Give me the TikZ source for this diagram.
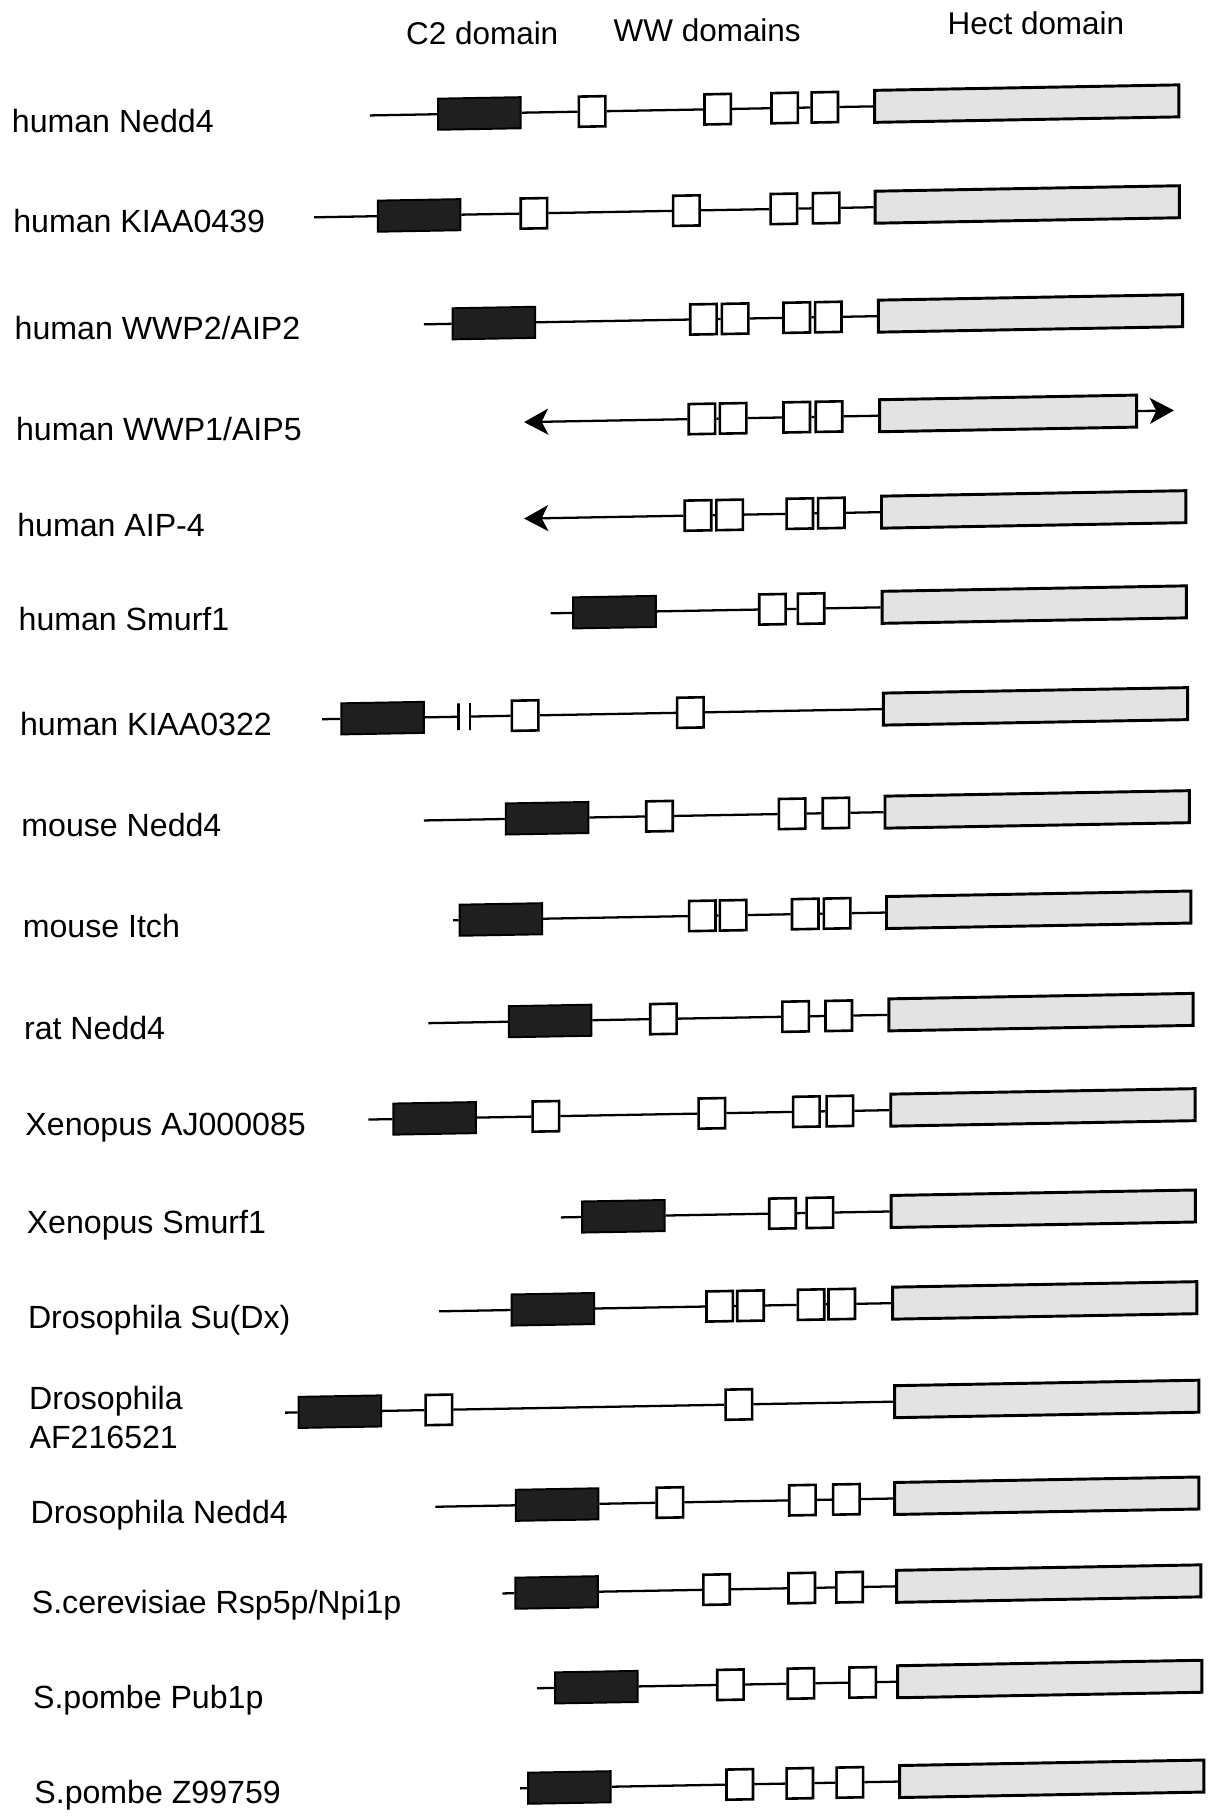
\documentclass[tikz,border=0pt]{standalone}
\usepackage{fontspec}
\setmainfont{Liberation Sans}
\usetikzlibrary{arrows.meta}
\begin{document}
\begin{tikzpicture}[x=0.025cm,y=0.025cm,
  lbl/.style={anchor=base west, inner sep=0, font=\fontsize{19.7}{22}\selectfont},
  hdr/.style={anchor=base west, inner sep=0, font=\fontsize{19.3}{22}\selectfont},
  ln/.style={line width=1.4pt},
  c2box/.style={draw, line width=1.2pt, fill=black!88, minimum width=1.78cm, minimum height=0.67cm, inner sep=0, transform shape},
  wwbox/.style={draw, line width=1.6pt, fill=white, minimum width=0.57cm, minimum height=0.65cm, inner sep=0, transform shape},
  hectbox/.style={draw, line width=1.8pt, fill=gray!22, minimum width=6.56cm, minimum height=0.69cm, inner sep=0, transform shape},
  brk/.style={draw, line width=1.4pt, minimum width=0pt, minimum height=0.58cm, inner sep=0, transform shape},
  tip/.style={-{Stealth[length=0.52cm,width=0.56cm,inset=0.14cm]}}
]
\useasboundingbox (0,0) rectangle (1042,-1568);

% headers
\node[hdr] (hc2) at (350,-38.8) {C2 domain};
\node[hdr] (hww) at (529,-35.9) {WW domains};
\node[hdr] (hhe) at (817,-29.6) {Hect domain};

% labels
\node[lbl] (l1) at (10,-114) {human Nedd4};
\node[lbl] (l2) at (11.2,-200.4) {human KIAA0439};
\node[lbl] (l3) at (12.4,-292.7) {human WWP2/AIP2};
\node[lbl] (l4) at (13.6,-379.5) {human WWP1/AIP5};
\node[lbl] (l5) at (14.7,-463) {human AIP-4};
\node[lbl] (l6) at (15.8,-544) {human Smurf1};
\node[lbl] (l7) at (17.0,-634) {human KIAA0322};
\node[lbl] (l8) at (18.2,-721.7) {mouse Nedd4};
\node[lbl] (l9) at (19.4,-808.5) {mouse Itch};
\node[lbl] (l10) at (20.5,-896.5) {rat Nedd4};
\node[lbl] (l11) at (21.7,-979) {Xenopus AJ000085};
\node[lbl] (l12) at (22.8,-1064) {Xenopus Smurf1};
\node[lbl] (l13) at (23.9,-1145.8) {Drosophila Su(Dx)};
\node[lbl] (l14a) at (24.9,-1215.7) {Drosophila};
\node[lbl] (l14b) at (25.3,-1249.3) {AF216521};
\node[lbl] (l15) at (26.2,-1314) {Drosophila Nedd4};
\node[lbl] (l16) at (27.2,-1391.7) {S.cerevisiae Rsp5p/Npi1p};
\node[lbl] (l17) at (28.3,-1473.6) {S.pombe Pub1p};
\node[lbl] (l18) at (29.4,-1555.5) {S.pombe Z99759};

\begin{scope}[yshift=-0.27cm, yslant=0.018]
% R1
\coordinate (s1) at (319,-94.5);
\node[c2box] (c1) at (413.4,-94.5) {};
\node[wwbox] (w1a) at (510.7,-94.5) {};
\node[wwbox] (w1b) at (619,-94.5) {};
\node[wwbox] (w1c) at (676.8,-94.5) {};
\node[wwbox] (w1d) at (711.4,-94.5) {};
\node[hectbox] (h1) at (885.5,-94.5) {};
\draw[ln] (s1) -- (c1) -- (w1a) -- (w1b) -- (w1c) -- (w1d) -- (h1);
% R2
\coordinate (s2) at (271,-181.5);
\node[c2box] (c2) at (361.5,-181.5) {};
\node[wwbox] (w2a) at (460.5,-181.5) {};
\node[wwbox] (w2b) at (592,-181.5) {};
\node[wwbox] (w2c) at (676.1,-181.5) {};
\node[wwbox] (w2d) at (712.5,-181.5) {};
\node[hectbox] (h2) at (886,-181.5) {};
\draw[ln] (s2) -- (c2) -- (w2a) -- (w2b) -- (w2c) -- (w2d) -- (h2);
% R3
\coordinate (s3) at (365.5,-275.5);
\node[c2box] (c3) at (426,-275.5) {};
\node[wwbox] (w3a) at (606.7,-275.5) {};
\node[wwbox] (w3b) at (634,-275.5) {};
\node[wwbox] (w3c) at (687.2,-275.5) {};
\node[wwbox] (w3d) at (714.4,-275.5) {};
\node[hectbox] (h3) at (888.8,-275.5) {};
\draw[ln] (s3) -- (c3) -- (w3a) -- (w3b) -- (w3c) -- (w3d) -- (h3);
% R4
\coordinate (a4) at (452,-361.4);
\node[wwbox] (w4a) at (605.4,-361.4) {};
\node[wwbox] (w4b) at (632.3,-361.4) {};
\node[wwbox] (w4c) at (687.2,-361.4) {};
\node[wwbox] (w4d) at (715,-361.4) {};
\node[hectbox, minimum width=5.54cm] (h4) at (869.5,-361.4) {};
\coordinate (t4) at (1012.5,-361.4);
\draw[ln,tip] (w4a) -- (a4);
\draw[ln] (w4a) -- (w4b) -- (w4c) -- (w4d) -- (h4);
\draw[ln,tip] (h4) -- (t4);
% R5
\coordinate (a5) at (452,-444.6);
\node[wwbox] (w5a) at (602,-444.6) {};
\node[wwbox] (w5b) at (629.3,-444.6) {};
\node[wwbox] (w5c) at (689.8,-444.6) {};
\node[wwbox] (w5d) at (717,-444.6) {};
\node[hectbox] (h5) at (891.5,-444.6) {};
\draw[ln,tip] (w5a) -- (a5);
\draw[ln] (w5a) -- (w5b) -- (w5c) -- (w5d) -- (h5);
% R6
\coordinate (s6) at (475,-526.7);
\node[c2box] (c6) at (530,-526.7) {};
\node[wwbox] (w6a) at (666.2,-526.7) {};
\node[wwbox] (w6b) at (699.5,-526.7) {};
\node[hectbox] (h6) at (892,-526.7) {};
\draw[ln] (s6) -- (c6) -- (w6a) -- (w6b) -- (h6);
% R7
\coordinate (s7) at (277.8,-614.5);
\node[c2box] (c7) at (330,-614.5) {};
\node[brk] (b7a) at (395.4,-614.5) {};
\node[brk] (b7b) at (405.4,-614.5) {};
\node[wwbox] (w7a) at (452.9,-614.5) {};
\node[wwbox] (w7b) at (595.4,-614.5) {};
\node[hectbox] (h7) at (893.1,-614.5) {};
\draw[ln] (s7) -- (c7) -- (b7a);
\draw[ln] (b7b) -- (w7a) -- (w7b) -- (h7);
% R8
\coordinate (s8) at (365.5,-703.4);
\node[c2box] (c8) at (471.8,-703.4) {};
\node[wwbox] (w8a) at (568.8,-703.4) {};
\node[wwbox] (w8b) at (683.2,-703.4) {};
\node[wwbox] (w8c) at (721,-703.4) {};
\node[hectbox] (h8) at (894.5,-703.4) {};
\draw[ln] (s8) -- (c8) -- (w8a) -- (w8b) -- (w8c) -- (h8);
% R9
\coordinate (s9) at (390.8,-790);
\node[c2box] (c9) at (432,-790) {};
\node[wwbox] (w9a) at (605.7,-790) {};
\node[wwbox] (w9b) at (632.3,-790) {};
\node[wwbox] (w9c) at (694.5,-790) {};
\node[wwbox] (w9d) at (722,-790) {};
\node[hectbox] (h9) at (895.8,-790) {};
\draw[ln] (s9) -- (c9) -- (w9a) -- (w9b) -- (w9c) -- (w9d) -- (h9);
% R10
\coordinate (s10) at (369.5,-878.3);
\node[c2box] (c10) at (474.5,-878.3) {};
\node[wwbox] (w10a) at (572.2,-878.3) {};
\node[wwbox] (w10b) at (686.2,-878.3) {};
\node[wwbox] (w10c) at (723.4,-878.3) {};
\node[hectbox] (h10) at (897.8,-878.3) {};
\draw[ln] (s10) -- (c10) -- (w10a) -- (w10b) -- (w10c) -- (h10);
% R11
\coordinate (s11) at (317.7,-960.5);
\node[c2box] (c11) at (374.8,-960.5) {};
\node[wwbox] (w11a) at (470.8,-960.5) {};
\node[wwbox] (w11b) at (614,-960.5) {};
\node[wwbox] (w11c) at (695.5,-960.5) {};
\node[wwbox] (w11d) at (724.4,-960.5) {};
\node[hectbox] (h11) at (899.5,-960.5) {};
\draw[ln] (s11) -- (c11) -- (w11a) -- (w11b) -- (w11c) -- (w11d) -- (h11);
% R12
\coordinate (s12) at (483.8,-1047.9);
\node[c2box] (c12) at (537.6,-1047.9) {};
\node[wwbox] (w12a) at (674.9,-1047.9) {};
\node[wwbox] (w12b) at (707.1,-1047.9) {};
\node[hectbox] (h12) at (899.8,-1047.9) {};
\draw[ln] (s12) -- (c12) -- (w12a) -- (w12b) -- (h12);
% R13
\coordinate (s13) at (378.8,-1127);
\node[c2box] (c13) at (476.8,-1127) {};
\node[wwbox] (w13a) at (620.7,-1127) {};
\node[wwbox] (w13b) at (647.3,-1127) {};
\node[wwbox] (w13c) at (699.5,-1127) {};
\node[wwbox] (w13d) at (726,-1127) {};
\node[hectbox] (h13) at (901.1,-1127) {};
\draw[ln] (s13) -- (c13) -- (w13a) -- (w13b) -- (w13c) -- (w13d) -- (h13);
% R14
\coordinate (s14) at (245.9,-1212);
\node[c2box] (c14) at (293.1,-1212) {};
\node[wwbox] (w14a) at (378.5,-1212) {};
\node[wwbox] (w14b) at (637.3,-1212) {};
\node[hectbox] (h14) at (902.8,-1212) {};
\draw[ln] (s14) -- (c14) -- (w14a) -- (w14b) -- (h14);
% R15
\coordinate (s15) at (375.5,-1295.5);
\node[c2box] (c15) at (480.5,-1295.5) {};
\node[wwbox] (w15a) at (577.8,-1295.5) {};
\node[wwbox] (w15b) at (692.1,-1295.5) {};
\node[wwbox] (w15c) at (730,-1295.5) {};
\node[hectbox] (h15) at (902.8,-1295.5) {};
\draw[ln] (s15) -- (c15) -- (w15a) -- (w15b) -- (w15c) -- (h15);
% R16
\coordinate (s16) at (433.3,-1371.3);
\node[c2box] (c16) at (480.1,-1371.3) {};
\node[wwbox] (w16a) at (618,-1371.3) {};
\node[wwbox] (w16b) at (691.5,-1371.3) {};
\node[wwbox] (w16c) at (732.7,-1371.3) {};
\node[hectbox] (h16) at (904.5,-1371.3) {};
\draw[ln] (s16) -- (c16) -- (w16a) -- (w16b) -- (w16c) -- (h16);
% R17
\coordinate (s17) at (463.2,-1453.6);
\node[c2box] (c17) at (514.4,-1453.6) {};
\node[wwbox] (w17a) at (630,-1453.6) {};
\node[wwbox] (w17b) at (690.8,-1453.6) {};
\node[wwbox] (w17c) at (744,-1453.6) {};
\node[hectbox] (h17) at (905.4,-1453.6) {};
\draw[ln] (s17) -- (c17) -- (w17a) -- (w17b) -- (w17c) -- (h17);
% R18
\coordinate (s18) at (448.6,-1539.7);
\node[c2box] (c18) at (491.1,-1539.7) {};
\node[wwbox] (w18a) at (638,-1539.7) {};
\node[wwbox] (w18b) at (689.8,-1539.7) {};
\node[wwbox] (w18c) at (733,-1539.7) {};
\node[hectbox] (h18) at (907.1,-1539.7) {};
\draw[ln] (s18) -- (c18) -- (w18a) -- (w18b) -- (w18c) -- (h18);
\end{scope}
\end{tikzpicture}
\end{document}
